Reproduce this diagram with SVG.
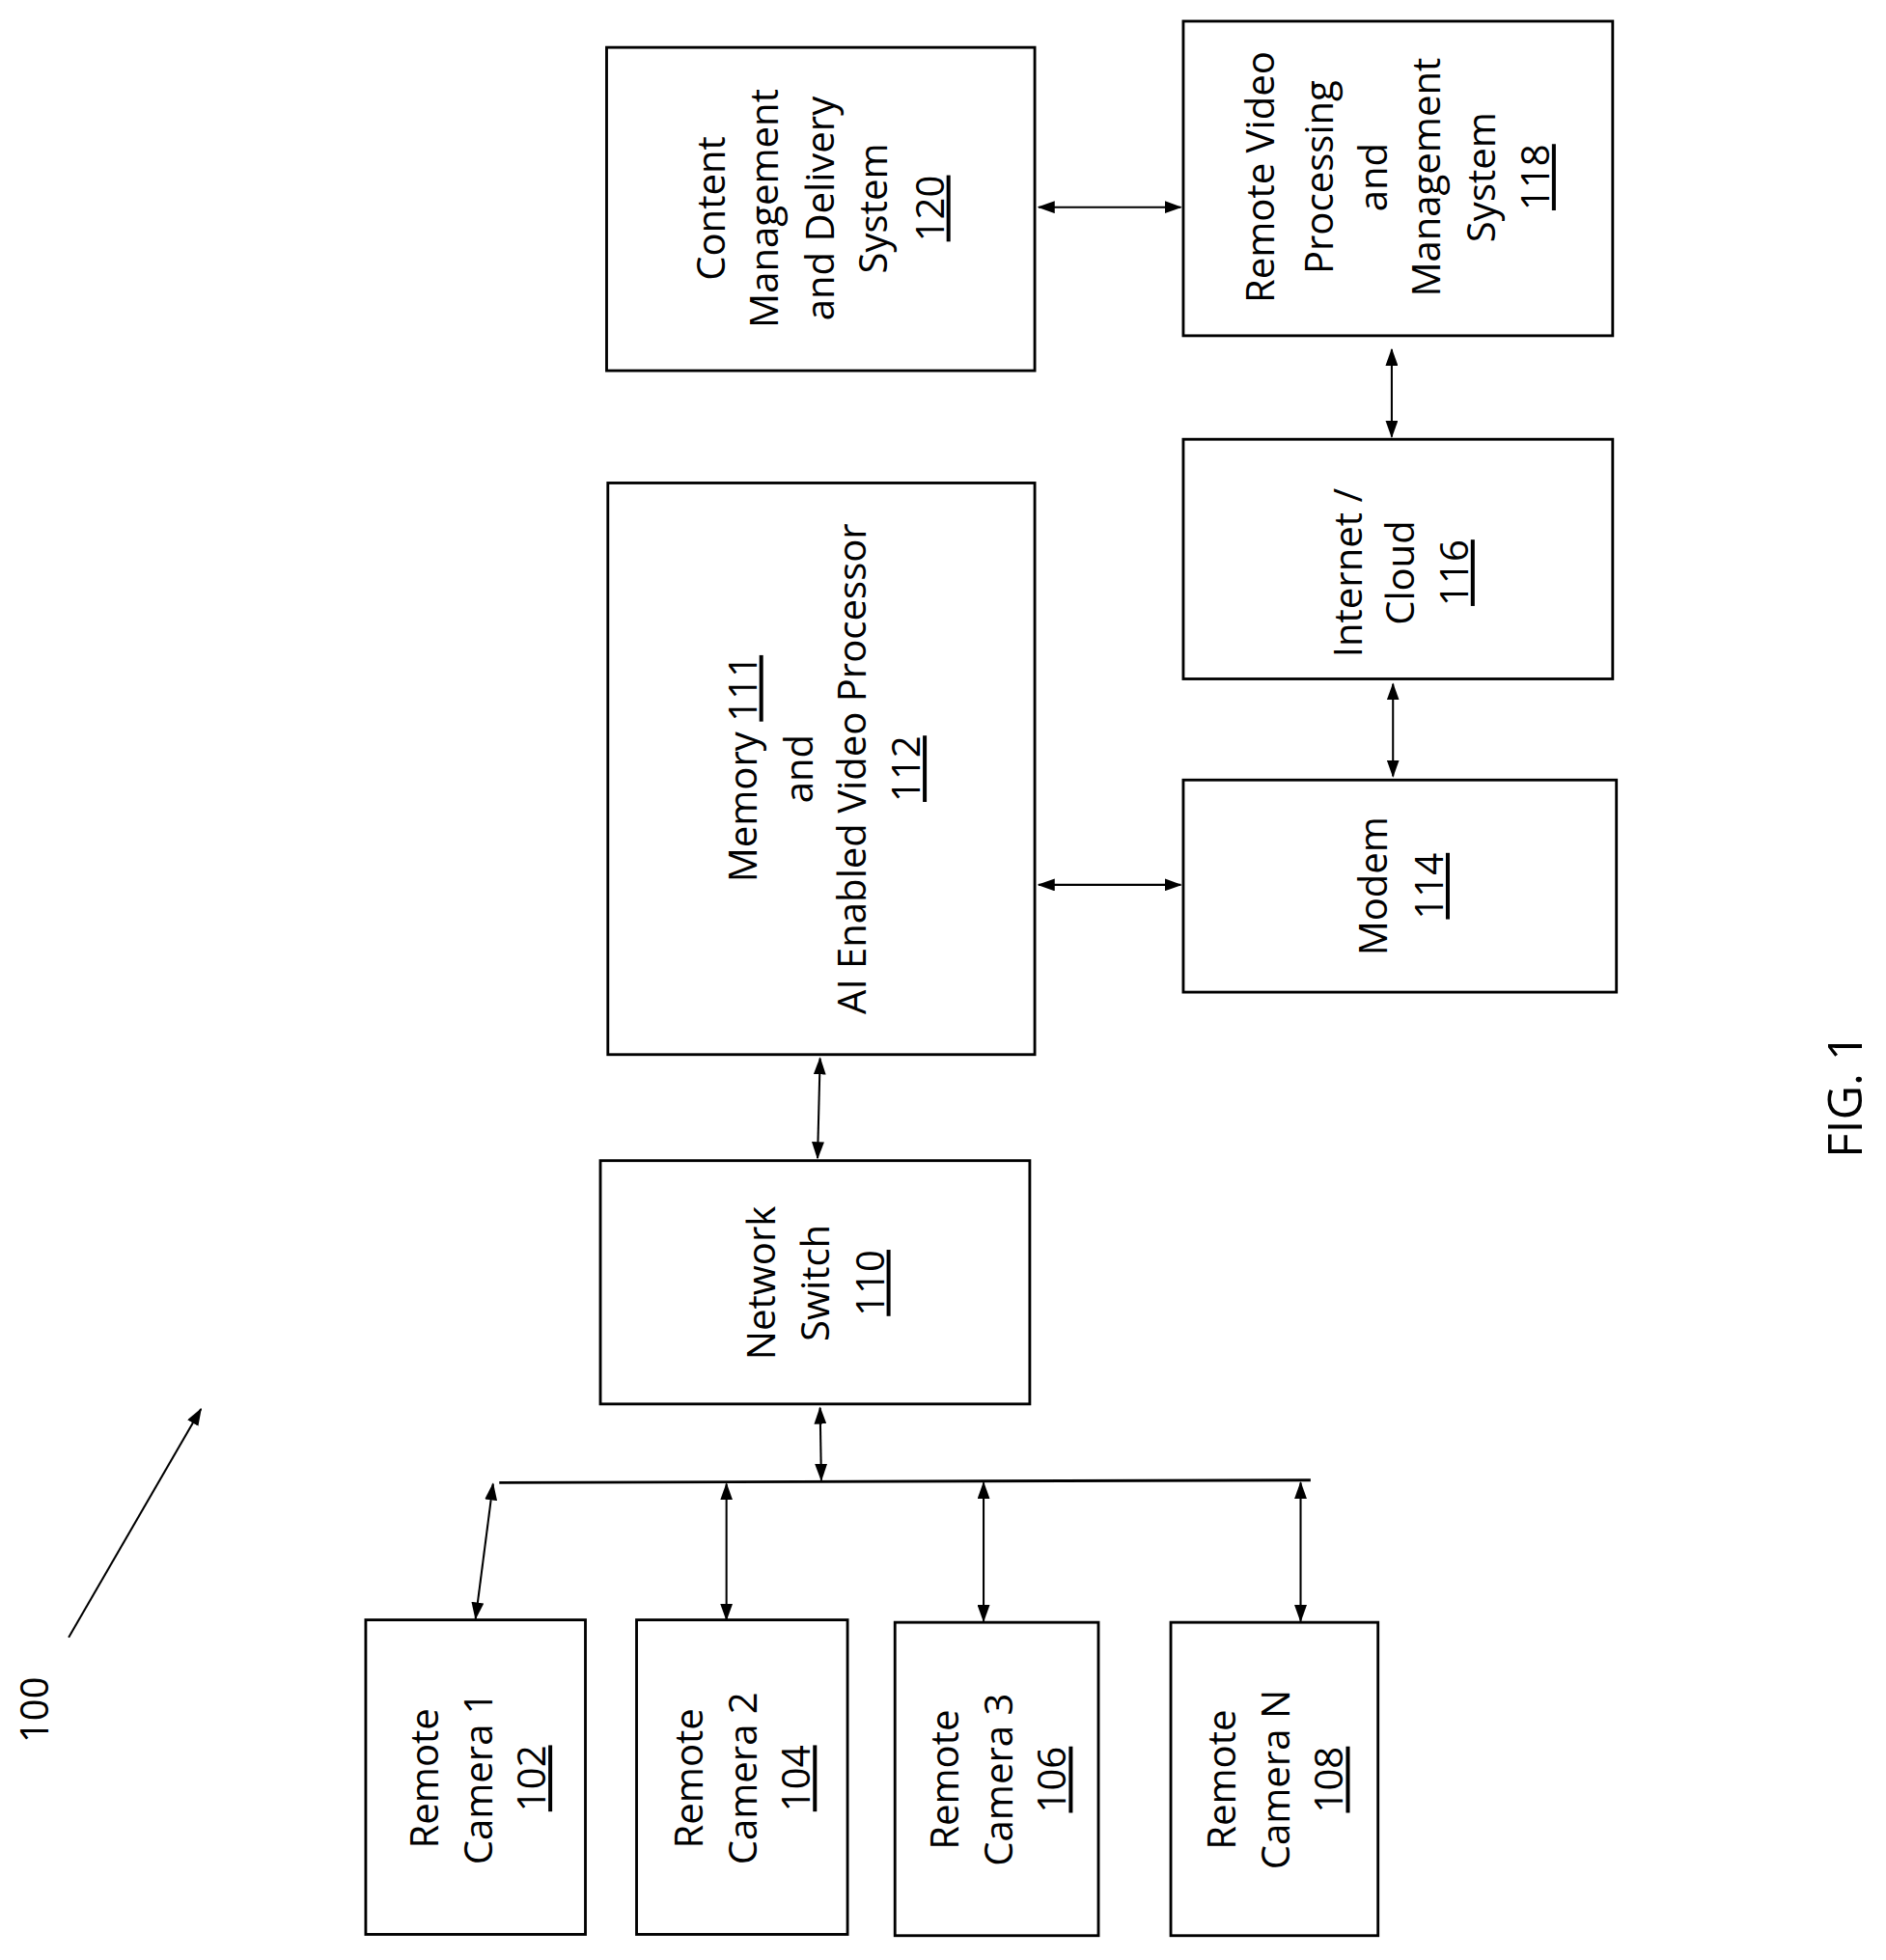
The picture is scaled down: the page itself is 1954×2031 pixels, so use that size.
<svg xmlns="http://www.w3.org/2000/svg" width="1954" height="2031" viewBox="0 0 1954 2031">
<defs>
<style>
rect{fill:#fff;stroke:#000;stroke-width:2.2}
text{font-family:"Open Sans","Liberation Sans",sans-serif;font-size:31px;fill:#000;text-anchor:middle}
.c line{stroke:#000;stroke-width:1.6}
.a{marker-start:url(#ah);marker-end:url(#ah)}
.u{text-decoration:underline}
</style>
<marker id="ah" viewBox="0 0 14 10" refX="13" refY="5" markerWidth="14" markerHeight="10" markerUnits="userSpaceOnUse" orient="auto-start-reverse"><path d="M0,0L14,5L0,10z" fill="#000"/></marker>
</defs>
<rect width="1954" height="2031" fill="#fff" style="stroke:none"/>
<g transform="scale(1.2932)">
<g id="label100"><text transform="translate(39,1370) rotate(-90)">100</text></g>
<g class="c" id="connectors">
<line x1="55" y1="1312" x2="161" y2="1129" style="marker-end:url(#ah)"/>
<line x1="400" y1="1188" x2="1050" y2="1186" style="stroke-width:2.2"/>
<line class="a" x1="381" y1="1297" x2="395" y2="1189"/>
<line class="a" x1="582" y1="1298" x2="582" y2="1189"/>
<line class="a" x1="788" y1="1299" x2="788" y2="1188"/>
<line class="a" x1="1042" y1="1299" x2="1042" y2="1188"/>
<line class="a" x1="658" y1="1186" x2="657" y2="1128"/>
<line class="a" x1="655" y1="928" x2="657" y2="848"/>
<line class="a" x1="832" y1="709" x2="946" y2="709"/>
<line class="a" x1="1116" y1="622" x2="1116" y2="548"/>
<line class="a" x1="1115" y1="350" x2="1115" y2="280"/>
<line class="a" x1="832" y1="166" x2="946" y2="166"/>
</g>
<g id="cam1"><rect x="293" y="1298" width="176" height="252"/>
<text transform="translate(351,1425) rotate(-90)">Remote</text><text transform="translate(394,1425) rotate(-90)">Camera 1</text><text class="u" transform="translate(437,1425) rotate(-90)">102</text></g>
<g id="cam2"><rect x="510" y="1298" width="169" height="252"/>
<text transform="translate(563,1425) rotate(-90)">Remote</text><text transform="translate(606,1425) rotate(-90)">Camera 2</text><text class="u" transform="translate(649,1425) rotate(-90)">104</text></g>
<g id="cam3"><rect x="717" y="1300" width="163" height="251"/>
<text transform="translate(768,1426) rotate(-90)">Remote</text><text transform="translate(811,1426) rotate(-90)">Camera 3</text><text class="u" transform="translate(854,1426) rotate(-90)">106</text></g>
<g id="camN"><rect x="938" y="1300" width="166" height="251"/>
<text transform="translate(990,1426) rotate(-90)">Remote</text><text transform="translate(1033,1426) rotate(-90)">Camera N</text><text class="u" transform="translate(1076,1426) rotate(-90)">108</text></g>
<g id="switch"><rect x="481" y="930" width="344" height="195"/>
<text transform="translate(621,1028) rotate(-90)">Network</text><text transform="translate(664,1028) rotate(-90)">Switch</text><text class="u" transform="translate(708,1028) rotate(-90)">110</text></g>
<g id="memory"><rect x="487" y="387" width="342" height="458"/>
<text transform="translate(606,616) rotate(-90)">Memory <tspan class="u">111</tspan></text><text transform="translate(651,616) rotate(-90)">and</text><text transform="translate(694,616) rotate(-90)">AI Enabled Video Processor</text><text class="u" transform="translate(737,616) rotate(-90)">112</text></g>
<g id="modem"><rect x="948" y="625" width="347" height="170"/>
<text transform="translate(1111,710) rotate(-90)">Modem</text><text class="u" transform="translate(1156,710) rotate(-90)">114</text></g>
<g id="internet"><rect x="948" y="352" width="344" height="192"/>
<text transform="translate(1091,459) rotate(-90)">Internet /</text><text transform="translate(1133,459) rotate(-90)">Cloud</text><text class="u" transform="translate(1176,459) rotate(-90)">116</text></g>
<g id="rvpms"><rect x="948" y="17" width="344" height="252"/>
<text transform="translate(1021,142) rotate(-90)">Remote Video</text><text transform="translate(1068,142) rotate(-90)">Processing</text><text transform="translate(1111,142) rotate(-90)">and</text><text transform="translate(1154,142) rotate(-90)">Management</text><text transform="translate(1198,142) rotate(-90)">System</text><text class="u" transform="translate(1241,142) rotate(-90)">118</text></g>
<g id="cmds"><rect x="486" y="38" width="343" height="259"/>
<text transform="translate(581,167) rotate(-90)">Content</text><text transform="translate(623,167) rotate(-90)">Management</text><text transform="translate(668,167) rotate(-90)">and Delivery</text><text transform="translate(711,167) rotate(-90)">System</text><text class="u" transform="translate(756,167) rotate(-90)">120</text></g>
<g id="fig"><text transform="translate(1492,878) rotate(-90)" style="font-size:38px">FIG. 1</text></g>
</g>
</svg>
